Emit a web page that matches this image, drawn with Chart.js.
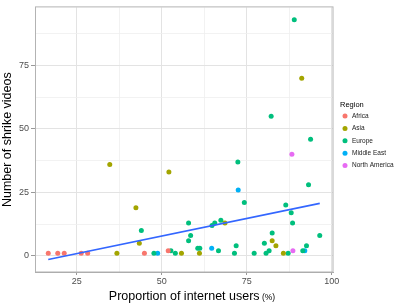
<!DOCTYPE html>
<html>
<head>
<meta charset="utf-8">
<script src="https://cdn.jsdelivr.net/npm/chart.js@4"></script>
<style>
  body { margin: 0; background: #fff; }
  #wrap { width: 394px; height: 305px; position: relative; }
</style>
</head>
<body>
<div id="wrap"><canvas id="canvas" width="394" height="305"></canvas></div>
<script>
// data
let regions = ['Africa', 'Asia', 'Europe', 'Middle East', 'North America']
let regionColors = ['#F8766D', '#A3A500', '#00BF7D', '#00B0F6', '#E76BF3']

let africaX = [16.6, 19.4, 21.3, 26.3, 28.2, 44.9, 51.9]
let africaY = [1, 1, 1, 1, 1, 1, 2]

let asiaX = [34.7, 36.8, 42.4, 43.4, 52.1, 55.8, 61.1, 68.6, 82.5, 83.6, 85.8, 91.2]
let asiaY = [36, 1, 19, 5, 33, 1, 1, 13, 6, 4, 1, 70]

let europeX = [44.0, 47.7, 52.7, 54.0, 57.9, 58.5, 57.9, 60.6, 61.2, 64.8, 65.6, 66.7, 67.4, 71.4, 71.9, 72.4, 74.3,
    77.2, 80.2, 80.7, 81.6, 82.5, 82.2, 86.5, 87.2, 88.1, 88.5, 89.0, 91.5, 92.6, 93.2, 93.8, 96.5]
let europeY = [10, 1, 2, 1, 13, 8, 6, 3, 3, 12, 13, 2, 14, 1, 4, 37, 21,
    1, 5, 1, 2, 9, 55, 20, 1, 17, 13, 93, 2, 4, 28, 46, 8]

let middleEastX = [48.8, 64.7, 72.5, 92.1]
let middleEastY = [1, 3, 26, 2]

let northAmericaX = [88.3, 88.6]
let northAmericaY = [40, 2]

// fitted line ends
let trendX = [16.6, 96.5]
let trendY = [-1.4, 20.7]

let xMajor = [25, 50, 75, 100]
let xMinor = [37.5, 62.5, 87.5]
let yMajor = [0, 25, 50, 75]
let yMinor = [12.5, 37.5, 62.5, 87.5]

let seriesX = [africaX, asiaX, europeX, middleEastX, northAmericaX]
let seriesY = [africaY, asiaY, europeY, middleEastY, northAmericaY]

function pairs(xs, ys) {
    return xs.map(function(x, i) { return {x: x, y: ys[i]} })
}

let datasets = regions.map(function(name, i) {
    return {
        label: name,
        data: pairs(seriesX[i], seriesY[i]),
        backgroundColor: regionColors[i],
        borderWidth: 0,
        pointRadius: 2.5,
        order: 1
    }
})
datasets.push({
    type: 'line',
    label: 'trend',
    data: pairs(trendX, trendY),
    borderColor: '#3366FF',
    borderWidth: 1.6,
    pointRadius: 0,
    fill: false,
    order: -1
})

let font = 'Liberation Sans, Arial, sans-serif'

function buildTicks(major, minor) {
    return function(scale) {
        scale.ticks = major.concat(minor).sort(function(a, b) { return a - b })
            .map(function(v) { return {value: v, major: major.indexOf(v) >= 0} })
    }
}
function isMajor(major) {
    return function(ctx) { return ctx.tick && major.indexOf(ctx.tick.value) >= 0 }
}

let extras = {
    id: 'extras',
    afterDraw: function(chart) {
        let c = chart.ctx
        let a = chart.chartArea
        c.save()
        // panel border
        c.strokeStyle = '#B3B3B3'
        c.lineWidth = 1
        c.strokeRect(a.left + 0.5, a.top - 0.5, a.right - a.left - 0.5, a.bottom - a.top + 0.5)

        // axis titles
        c.fillStyle = '#000'
        c.textBaseline = 'middle'
        let main = 'Proportion of internet users'
        c.font = '12.5px ' + font
        let w1 = c.measureText(main).width
        c.font = '8.5px ' + font
        let w2 = c.measureText(' (%)').width
        let x0 = (a.left + a.right) / 2 + 8 - (w1 + w2) / 2
        c.textAlign = 'left'
        c.font = '12.5px ' + font
        c.fillText(main, x0, 297)
        c.font = '8.5px ' + font
        c.fillText(' (%)', x0 + w1, 298)

        c.save()
        c.translate(8, (a.top + a.bottom) / 2)
        c.rotate(-Math.PI / 2)
        c.textAlign = 'center'
        c.font = '12.5px ' + font
        c.fillText('Number of shrike videos', 0, 0)
        c.restore()

        // legend
        c.textAlign = 'left'
        c.font = '7.5px ' + font
        c.fillStyle = '#000'
        c.fillText('Region', 340, 105)
        c.font = '6.5px ' + font
        regions.forEach(function(name, i) {
            let y = 116 + i * 12.4
            c.beginPath()
            c.fillStyle = regionColors[i]
            c.arc(345, y, 2.5, 0, Math.PI * 2)
            c.fill()
            c.fillStyle = '#1A1A1A'
            c.fillText(name, 352, y)
        })
        c.restore()
    }
}

let chart = new Chart(document.getElementById('canvas'), {
    type: 'scatter',
    data: {datasets: datasets},
    options: {
        responsive: false,
        animation: false,
        layout: {padding: {top: 1, right: 61, left: 0, bottom: 0}},
        plugins: {legend: {display: false}, tooltip: {enabled: false}},
        scales: {
            x: {
                type: 'linear',
                min: 12.7,
                max: 100.4,
                afterBuildTicks: buildTicks(xMajor, xMinor),
                afterFit: function(scale) { scale.height = 33 },
                grid: {
                    color: function(ctx) { return isMajor(xMajor)(ctx) ? '#E3E3E3' : '#EFEFEF' },
                    lineWidth: function(ctx) { return isMajor(xMajor)(ctx) ? 1 : 0.8 },
                    tickColor: function(ctx) { return isMajor(xMajor)(ctx) ? '#999999' : 'rgba(0,0,0,0)' },
                    tickLength: 3
                },
                border: {color: '#A6A6A6'},
                ticks: {
                    autoSkip: false,
                    maxRotation: 0,
                    padding: 1,
                    color: '#4D4D4D',
                    font: {family: font, size: 9},
                    callback: function(v) { return xMajor.indexOf(v) >= 0 ? String(v) : '' }
                }
            },
            y: {
                min: -6.35,
                max: 97.9,
                afterBuildTicks: buildTicks(yMajor, yMinor),
                afterFit: function(scale) { scale.width = 35 },
                grid: {
                    color: function(ctx) { return isMajor(yMajor)(ctx) ? '#E3E3E3' : '#EFEFEF' },
                    lineWidth: function(ctx) { return isMajor(yMajor)(ctx) ? 1 : 0.8 },
                    tickColor: function(ctx) { return isMajor(yMajor)(ctx) ? '#999999' : 'rgba(0,0,0,0)' },
                    tickLength: 4
                },
                border: {color: '#A6A6A6'},
                ticks: {
                    autoSkip: false,
                    padding: 2,
                    color: '#4D4D4D',
                    font: {family: font, size: 9},
                    callback: function(v) { return yMajor.indexOf(v) >= 0 ? String(v) : '' }
                }
            }
        }
    },
    plugins: [extras]
})
</script>
</body>
</html>
